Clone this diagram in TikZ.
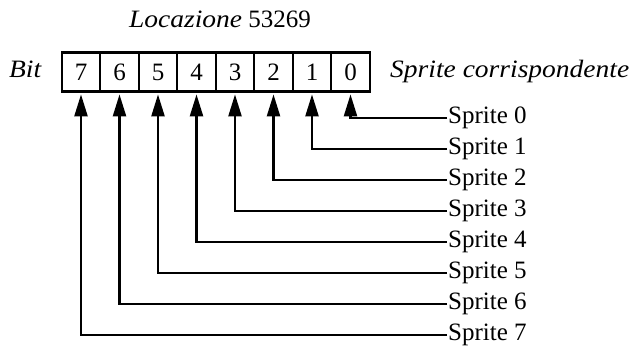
\documentclass[tikz,border=0pt]{standalone}
\usepackage{fontspec}
\setmainfont{Liberation Serif}[ItalicFeatures={FakeStretch=1.1}]
\usetikzlibrary{arrows.meta,positioning}
\begin{document}
\begin{tikzpicture}[x=1pt, y=-1pt, every node/.style={font=\fontsize{25}{28}\selectfont},
  cella/.style={draw, line width=2.4pt, minimum width=38.5pt, minimum height=39pt, inner sep=0pt},
  freccia/.style={line width=2.4pt, -{Triangle[length=22pt,width=13pt]}, shorten >=1.5pt}]
  \useasboundingbox (0,0) rectangle (634,350);
  \node[anchor=base] (tit) at (220,28) {\textit{Locazione} 53269};
  % registro a 8 bit
  \foreach \i in {0,...,7}
    \node[cella] (c\i) at ({350.5-38.5*\i},72.2) {\i};
  \node[anchor=base east, inner sep=0pt] (bit) at (42,78) {\textit{Bit}};
  \node[anchor=base west, inner sep=0pt] (corr) at (390,78) {\textit{Sprite corrispondente}};
  % uscite
  \foreach \i in {0,...,7} {
    \node[anchor=west, inner sep=1pt] (s\i) at (447,{118+31*\i}) {Sprite \i};
    \draw[freccia] (s\i.west) -| (c\i.south);
  }
\end{tikzpicture}
\end{document}
